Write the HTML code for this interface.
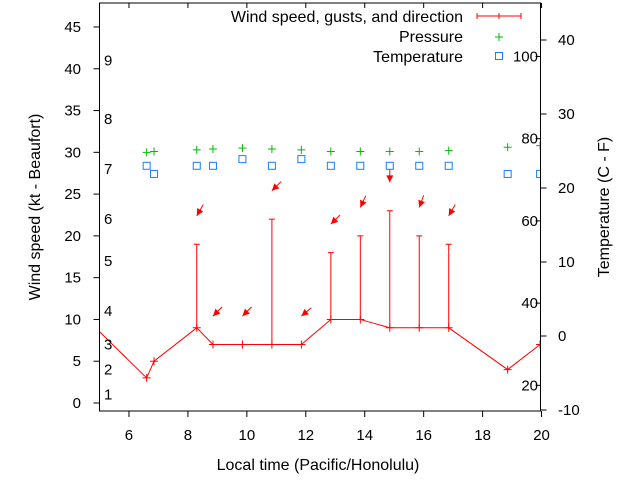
<!DOCTYPE html>
<html><head><meta charset="utf-8"><style>
body{margin:0;background:#fff}
svg{display:block;font-family:"Liberation Sans",sans-serif}
</style></head><body>
<svg id="c" width="640" height="480">
<defs><clipPath id="clip"><rect x="99.5" y="3" width="441" height="408"/></clipPath></defs>
<g id="plot" clip-path="url(#clip)"></g>
<g id="axes"></g>
</svg>
<script>
const times=[4.0,6.6,6.85,8.3,8.85,9.85,10.85,11.85,12.85,13.85,14.85,15.85,16.85,18.85,19.95];
const wind=[12,3,5,9,7,7,7,7,10,10,9,9,9,4,7];
const gust=[null,null,null,19,null,null,22,null,18,20,23,20,19,null,null];
const dirs=[null,null,null,30,45,45,45,50,45,25,0,20,30,null,45];
const tempC=[null,23,21.9,23,23,23.9,23,23.9,23,23,23,23,23,21.9,21.9];
const pressure=[null,30.0,30.1,30.3,30.4,30.5,30.4,30.3,30.1,30.1,30.1,30.1,30.2,30.6,30.8];
const yTicks=[0,5,10,15,20,25,30,35,40,45];
const xTicks=[6,8,10,12,14,16,18,20];
const cTicks=[-10,0,10,20,30,40];
const fTicks=[20,40,60,80,100];
const beaufort=[1,4,7,11,17,22,28,34,41];

const NS="http://www.w3.org/2000/svg";
const X=t=>99.5+(t-5)*29.47;
const Y=v=>403-v*8.356;
const YC=c=>336-c*7.4;
const L=99.5,R=540.5,T=3,B=411;
function mk(tag,attrs,parent,text){const e=document.createElementNS(NS,tag);for(const k in attrs)e.setAttribute(k,attrs[k]);if(text!==undefined)e.textContent=text;parent.appendChild(e);return e;}
const plot=document.getElementById('plot'),axes=document.getElementById('axes');

let pts=times.map((t,i)=>X(t)+','+Y(wind[i])).join(' ');
let pl=mk('polyline',{points:pts,fill:'none',stroke:'#f00','stroke-width':1},plot);


times.forEach((t,i)=>{
  const x=X(t),y=Y(wind[i]);
  let m=mk('path',{d:`M${x-4},${y}H${x+4}M${x},${y-4}V${y+4}`,stroke:'#f00','stroke-width':1},plot);
  
  
  if(gust[i]!==null){
    const yg=Y(gust[i]);
    let g=mk('path',{d:`M${x},${y}V${yg}M${x-3},${yg}H${x+3}`,stroke:'#f00','stroke-width':1},plot);
    
    
  }
  if(dirs[i]!==null){
    const base=(gust[i]!==null?gust[i]:wind[i])+3.4;
    const hx=x,hy=Y(base);
    const a=dirs[i]*Math.PI/180;
    const tx=hx+13*Math.sin(a),ty=hy-13*Math.cos(a);
    const ux=(hx-tx)/13,uy=(hy-ty)/13;
    const bx=hx-ux*7,by=hy-uy*7;
    let ag=mk('g',{},plot);
    
    
    mk('line',{x1:tx,y1:ty,x2:hx,y2:hy,stroke:'#f00','stroke-width':1},ag);
    mk('polygon',{points:`${hx},${hy} ${bx-uy*3.5},${by+ux*3.5} ${bx+uy*3.5},${by-ux*3.5}`,fill:'#f00'},ag);
  }
  if(pressure[i]!==null){
    const py=Y(pressure[i]);
    let p=mk('path',{d:`M${x-4},${py}H${x+4}M${x},${py-4}V${py+4}`,stroke:'#0b0','stroke-width':1},plot);
    
    
  }
  if(tempC[i]!==null){
    const cy=YC(tempC[i]);
    let s=mk('rect',{x:x-3.5,y:cy-3.5,width:7,height:7,fill:'none',stroke:'#1a7ff0','stroke-width':1},plot);
    
    
  }
});

let fr=mk('rect',{x:L,y:T,width:R-L,height:B-T,fill:'none',stroke:'#000','stroke-width':1},axes);


yTicks.forEach(v=>{const y=Y(v);
  mk('line',{x1:L-6,y1:y,x2:L,y2:y,stroke:'#000'},axes);
  let t=mk('text',{x:81,y:y+5,'text-anchor':'end','font-size':15},axes,String(v));
  
  
});
xTicks.forEach(v=>{const x=X(v);
  mk('line',{x1:x,y1:B,x2:x,y2:B+6,stroke:'#000'},axes);
  mk('line',{x1:x,y1:T,x2:x,y2:T+5,stroke:'#000'},axes);
  let t=mk('text',{x:x,y:440,'text-anchor':'middle','font-size':15},axes,String(v));
  
  
});
cTicks.forEach(v=>{const y=YC(v);
  mk('line',{x1:R,y1:y,x2:R+6,y2:y,stroke:'#000'},axes);
  let t=mk('text',{x:558,y:y+5,'text-anchor':'start','font-size':15},axes,String(v));
  
  
});
fTicks.forEach(v=>{const y=YC((v-32)*5/9);
  mk('line',{x1:R-5,y1:y,x2:R,y2:y,stroke:'#000'},axes);
  let t=mk('text',{x:538,y:y+5,'text-anchor':'end','font-size':15},axes,String(v));
  
  
});
beaufort.forEach((v,i)=>{
  let t=mk('text',{x:104,y:Y(v)+5,'font-size':15},axes,String(i+1));
  
  
});
</script>
<script>
(function(){
const s=document.getElementById('c');const NS="http://www.w3.org/2000/svg";
function mk(tag,attrs,text){const e=document.createElementNS(NS,tag);for(const k in attrs)e.setAttribute(k,attrs[k]);if(text!==undefined)e.textContent=text;s.appendChild(e);return e;}
let a=mk('text',{x:318,y:470,'text-anchor':'middle','font-size':16},'Local time (Pacific/Honolulu)');

let b=mk('text',{x:0,y:0,'text-anchor':'middle','font-size':16,transform:'translate(40,207) rotate(-90)'},'Wind speed (kt - Beaufort)');

let c=mk('text',{x:0,y:0,'text-anchor':'middle','font-size':16,transform:'translate(609,207) rotate(-90)'},'Temperature (C - F)');

let l1=mk('text',{x:463,y:22,'text-anchor':'end','font-size':16},'Wind speed, gusts, and direction');

mk('path',{d:'M477,16H521M477,13V19M499,13V19M521,13V19',stroke:'#f00','stroke-width':1});
let l2=mk('text',{x:463,y:42,'text-anchor':'end','font-size':16},'Pressure');

mk('path',{d:'M495,37H503M499,33V41',stroke:'#0b0','stroke-width':1});
let l3=mk('text',{x:463,y:62,'text-anchor':'end','font-size':16},'Temperature');

mk('rect',{x:495.5,y:52.5,width:7,height:7,fill:'none',stroke:'#1a7ff0'});
})();
</script>
</body></html>
